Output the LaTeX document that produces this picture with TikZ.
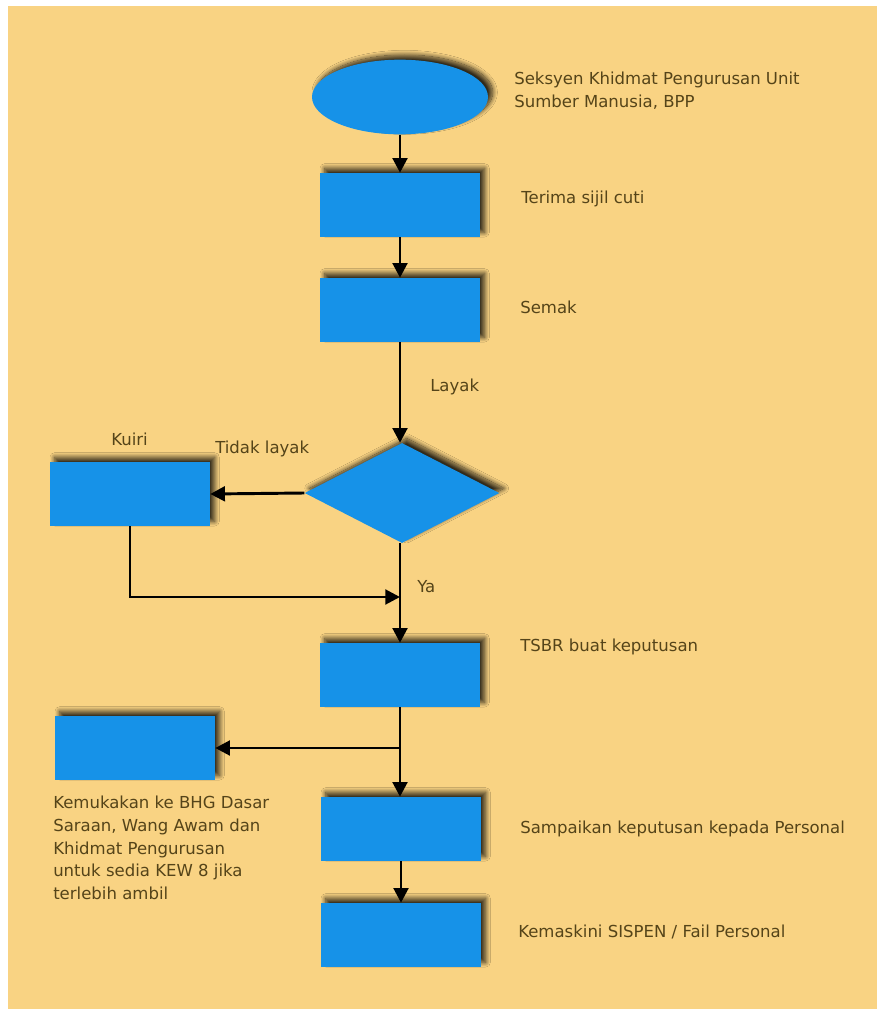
\documentclass[tikz,border=0pt]{standalone}
\usepackage{fontspec}
\setmainfont{DejaVu Sans}
\usepackage{xcolor}
\usepackage{tikz}
\usetikzlibrary{shapes.geometric,arrows.meta,shadows.blur}

\definecolor{latar}{HTML}{F9D383}
\definecolor{biru}{HTML}{1692E8}
\definecolor{teks}{HTML}{554419}

\tikzset{
	bayang/.style={blur shadow={shadow xshift=3.5pt, shadow yshift=3.5pt, shadow blur radius=3.5pt, shadow opacity=80, shadow blur steps=14}},
	kotak/.style={rectangle, fill=biru, minimum width=120pt, minimum height=48pt, inner sep=0pt, bayang},
	mula/.style={ellipse, fill=biru, minimum width=132pt, minimum height=56pt, inner sep=0pt, bayang},
	keputusan/.style={diamond, fill=biru, minimum width=146pt, minimum height=75pt, inner sep=0pt, bayang},
	catatan/.style={anchor=west, inner sep=0pt, text=teks, align=left, font=\fontsize{12.4}{17}\selectfont},
	anak/.style={-{Triangle[width=11pt,length=11pt]}, line width=2.2pt, black},
}

\begin{document}
\begin{tikzpicture}[x=0.75pt,y=-0.75pt]
		\useasboundingbox (0,0) rectangle (877,1009);
		\fill[white] (0,0) rectangle (877,1009);
		\fill[latar] (8,6) rectangle (877,1009);

		\node[mula] (seksyen) at (400,97) {};
		\node[kotak] (terima) at (400,205) {};
		\node[kotak] (semak) at (400,310) {};
		\node[keputusan] (layak) at (402,493) {};
		\node[kotak] (kuiri) at (130,494) {};
		\node[kotak] (tsbr) at (400,675) {};
		\node[kotak] (bhg) at (135,748) {};
		\node[kotak] (sampai) at (401,829) {};
		\node[kotak] (kemaskini) at (401,935) {};

		\coordinate (masuk) at (400,597);
		\coordinate (cabang) at (400,748);

		\draw[anak] (seksyen) -- (terima);
		\draw[anak] (terima) -- (semak);
		\draw[anak] (semak) -- (layak.north -| semak);
		\draw[anak] (layak.west) -- (kuiri.east);
		\draw[anak] (kuiri.south) |- (masuk);
		\draw[anak] (layak.south -| semak) -- (tsbr);
		\draw[anak] (tsbr) -- (sampai.north -| tsbr);
		\draw[anak] (cabang) -- (bhg.east);
		\draw[anak] (sampai) -- (kemaskini);

		\node[catatan] (t-seksyen) at (514,91) {Seksyen Khidmat Pengurusan Unit\\Sumber Manusia, BPP};
		\node[catatan] (t-terima) at (521,199) {Terima sijil cuti};
		\node[catatan] (t-semak) at (520,307) {Semak};
		\node[catatan] (t-layak) at (430,387) {Layak};
		\node[catatan] (t-kuiri) at (111,439) {Kuiri};
		\node[catatan] (t-tidak) at (215,449) {Tidak layak};
		\node[catatan] (t-ya) at (417,587) {Ya};
		\node[catatan] (t-tsbr) at (520,647) {TSBR buat keputusan};
		\node[catatan] (t-bhg) at (53,848) {Kemukakan ke BHG Dasar\\Saraan, Wang Awam dan\\Khidmat Pengurusan\\untuk sedia KEW 8 jika\\terlebih ambil};
		\node[catatan] (t-sampai) at (520,829) {Sampaikan keputusan kepada Personal};
		\node[catatan] (t-kemaskini) at (518,932) {Kemaskini SISPEN / Fail Personal};
	\end{tikzpicture}
\end{document}
